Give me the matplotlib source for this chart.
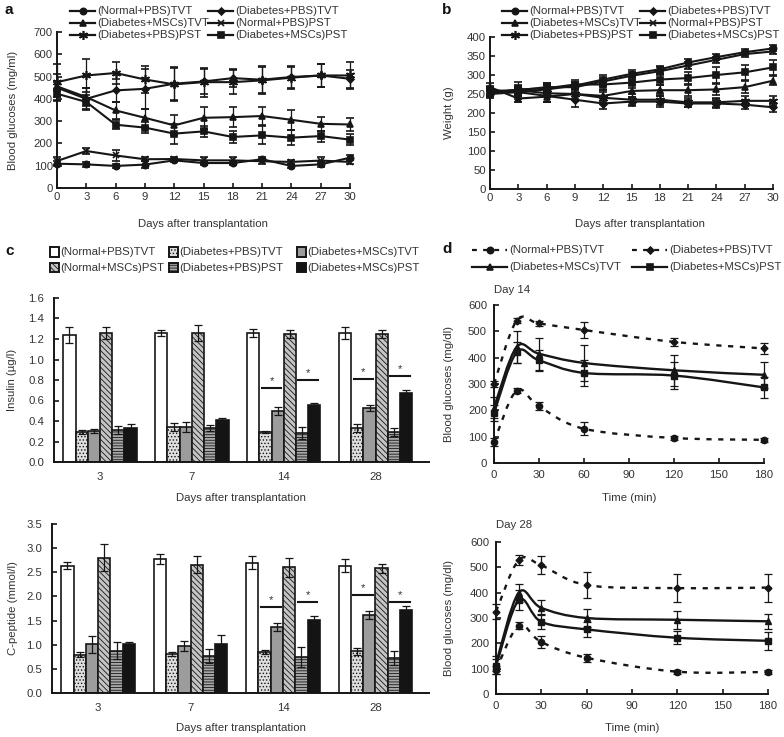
import numpy as np
import matplotlib
matplotlib.use('Agg')
import matplotlib.pyplot as plt
from matplotlib.lines import Line2D
from matplotlib.patches import Rectangle, PathPatch
from matplotlib.path import Path
from matplotlib.ticker import FormatStrFormatter

W, H = 784, 737
INK = '#161616'
TXT = '#333333'
FS = 8.2

plt.rcParams['font.family'] = ['Liberation Sans', 'DejaVu Sans']
plt.rcParams['font.size'] = FS
plt.rcParams['hatch.linewidth'] = 0.6
plt.rcParams['text.color'] = TXT

# ---------------- data: panel a (blood glucose, mg/ml) ----------------
days = [0, 3, 6, 9, 12, 15, 18, 21, 24, 27, 30]
a_norm_tvt = [109, 106, 99, 105, 124, 112, 112, 129, 99, 106, 136]
a_dpbs_tvt = [450, 400, 438, 445, 468, 478, 493, 486, 498, 505, 490]
a_dmsc_tvt = [456, 408, 348, 315, 281, 315, 318, 323, 306, 288, 285]
a_norm_pst = [121, 166, 146, 129, 130, 124, 124, 120, 117, 123, 117]
a_dpbs_pst = [475, 505, 516, 487, 465, 475, 475, 483, 495, 505, 505]
a_dmsc_pst = [423, 386, 284, 271, 244, 254, 229, 236, 226, 233, 217]
a_err_norm_tvt = [10, 12, 8, 15, 8, 10, 10, 10, 10, 10, 10]
a_err_dpbs_tvt = [60, 50, 50, 90, 75, 55, 40, 60, 50, 50, 40]
a_err_dmsc_tvt = [20, 40, 40, 40, 45, 50, 45, 40, 45, 30, 30]
a_err_norm_pst = [20, 15, 25, 10, 10, 15, 15, 12, 10, 15, 10]
a_err_dpbs_pst = [80, 75, 50, 60, 75, 65, 55, 60, 50, 50, 60]
a_err_dmsc_pst = [15, 30, 20, 25, 45, 25, 25, 40, 35, 25, 25]

# ---------------- data: panel b (weight, g) ----------------
b_norm_tvt = [250, 255, 262, 272, 288, 303, 315, 333, 347, 360, 370]
b_dpbs_tvt = [260, 255, 245, 235, 225, 230, 230, 225, 225, 222, 215]
b_dmsc_tvt = [268, 238, 243, 250, 245, 258, 260, 260, 262, 268, 285]
b_norm_pst = [258, 260, 268, 268, 283, 298, 310, 325, 340, 355, 362]
b_dpbs_pst = [255, 260, 252, 250, 240, 235, 235, 228, 228, 232, 232]
b_dmsc_pst = [252, 262, 265, 275, 275, 280, 288, 292, 300, 307, 320]
b_err_norm_tvt = [10, 10, 12, 10, 12, 10, 10, 10, 8, 8, 8]
b_err_dpbs_tvt = [12, 12, 15, 18, 15, 12, 15, 10, 12, 12, 12]
b_err_dmsc_tvt = [10, 10, 15, 12, 15, 15, 15, 15, 15, 15, 12]
b_err_norm_pst = [10, 12, 12, 10, 12, 10, 10, 10, 8, 8, 8]
b_err_dpbs_pst = [10, 22, 22, 15, 15, 15, 15, 12, 12, 12, 12]
b_err_dmsc_pst = [10, 12, 15, 12, 15, 15, 15, 15, 20, 20, 20]

# ---------------- data: panel c (bars) ----------------
c_days = ['3', '7', '14', '28']
c_labels = ['(Normal+PBS)TVT', '(Diabetes+PBS)TVT', '(Diabetes+MSCs)TVT',
            '(Normal+MSCs)PST', '(Diabetes+PBS)PST', '(Diabetes+MSCs)PST']
ins_vals = [[1.24, 1.255, 1.255, 1.26],
            [0.29, 0.34, 0.29, 0.335],
            [0.30, 0.34, 0.50, 0.53],
            [1.26, 1.26, 1.245, 1.245],
            [0.31, 0.335, 0.28, 0.29],
            [0.33, 0.41, 0.56, 0.67]]
ins_errs = [[0.08, 0.03, 0.04, 0.06],
            [0.02, 0.04, 0.01, 0.04],
            [0.02, 0.05, 0.04, 0.03],
            [0.06, 0.08, 0.04, 0.04],
            [0.04, 0.03, 0.06, 0.04],
            [0.04, 0.02, 0.02, 0.03]]
cp_vals = [[2.64, 2.77, 2.70, 2.64],
           [0.79, 0.80, 0.85, 0.86],
           [1.01, 0.98, 1.36, 1.61],
           [2.80, 2.66, 2.60, 2.58],
           [0.88, 0.77, 0.75, 0.72],
           [1.01, 1.01, 1.52, 1.72]]
cp_errs = [[0.08, 0.1, 0.14, 0.13],
           [0.05, 0.04, 0.05, 0.07],
           [0.18, 0.1, 0.08, 0.08],
           [0.28, 0.17, 0.2, 0.1],
           [0.18, 0.14, 0.21, 0.15],
           [0.05, 0.2, 0.07, 0.08]]
# significance marks: (group, first bar of pair, height)
ins_stars = [(2, 1, 0.72), (2, 4, 0.80), (3, 1, 0.81), (3, 4, 0.84)]
cp_stars = [(2, 1, 1.78), (2, 4, 1.88), (3, 1, 2.03), (3, 4, 1.88)]

# ---------------- data: panel d (glucose tolerance, mg/dl) ----------------
minutes = [0, 15, 30, 60, 120, 180]
d14_norm_tvt = [80, 275, 215, 130, 95, 88]
d14_dpbs_tvt = [300, 540, 530, 505, 460, 435]
d14_dmsc_tvt = [210, 440, 415, 380, 352, 335]
d14_dmsc_pst = [190, 420, 390, 342, 332, 287]
d14_err_norm_tvt = [15, 10, 15, 25, 8, 8]
d14_err_dpbs_tvt = [10, 10, 10, 30, 15, 20]
d14_err_dmsc_tvt = [40, 60, 60, 70, 60, 50]
d14_err_dmsc_pst = [30, 40, 40, 50, 50, 40]
d28_norm_tvt = [95, 270, 205, 143, 88, 87]
d28_dpbs_tvt = [325, 528, 508, 430, 418, 420]
d28_dmsc_tvt = [120, 400, 340, 300, 293, 287]
d28_dmsc_pst = [110, 370, 285, 255, 222, 210]
d28_err_norm_tvt = [15, 15, 25, 15, 8, 8]
d28_err_dpbs_tvt = [30, 20, 35, 50, 55, 55]
d28_err_dmsc_tvt = [30, 35, 30, 35, 35, 30]
d28_err_dmsc_pst = [30, 40, 30, 30, 25, 35]


def fx(x):
    return x / W


def fy(y):
    return 1 - y / H


def rect(left, top, right, bottom):
    return [fx(left), fy(bottom), fx(right) - fx(left), fy(top) - fy(bottom)]


def style_axes(ax, pad=3):
    for s in ['top', 'right']:
        ax.spines[s].set_visible(False)
    for s in ['left', 'bottom']:
        ax.spines[s].set_linewidth(1.4)
        ax.spines[s].set_color(INK)
    ax.tick_params(direction='in', length=3.5, width=1.2, color=INK,
                   labelsize=FS, labelcolor=TXT, pad=pad)


def unclip(container):
    for art in container.get_children():
        art.set_clip_on(False)


markers = {'norm_tvt': ('o', 4.5), 'dpbs_tvt': ('D', 3.5), 'dmsc_tvt': ('^', 5),
           'norm_pst': ('x', 5), 'dpbs_pst': ((6, 2, 0), 6.5), 'dmsc_pst': ('s', 4.5)}
names = ['(Normal+PBS)TVT', '(Diabetes+PBS)TVT', '(Diabetes+MSCs)TVT',
         '(Normal+PBS)PST', '(Diabetes+PBS)PST', '(Diabetes+MSCs)PST']
keys = ['norm_tvt', 'dpbs_tvt', 'dmsc_tvt', 'norm_pst', 'dpbs_pst', 'dmsc_pst']


def line_legend(x1, x2, rows, entries, seg=25):
    # entries in row order, 2 per row
    for i, (key, label, style) in enumerate(entries):
        r, c = divmod(i, 2)
        x0 = [x1, x2][c]
        y = rows[r]
        m, ms = markers[key]
        fig.add_artist(Line2D([fx(x0), fx(x0 + seg)], [fy(y), fy(y)], color=INK,
                              lw=1.6, ls=style, transform=fig.transFigure))
        fig.add_artist(Line2D([fx(x0 + seg / 2)], [fy(y)], marker=m, ms=ms, mew=1.2,
                              color=INK, transform=fig.transFigure))
        fig.text(fx(x0 + seg + 2), fy(y), label, va='center', ha='left', fontsize=FS)


fig = plt.figure(figsize=(W / 100, H / 100), dpi=100)

# ---------------- panel a ----------------
ax = fig.add_axes(rect(57, 32, 350, 188))
style_axes(ax)
a_series = [a_norm_tvt, a_dpbs_tvt, a_dmsc_tvt, a_norm_pst, a_dpbs_pst, a_dmsc_pst]
a_errs = [a_err_norm_tvt, a_err_dpbs_tvt, a_err_dmsc_tvt, a_err_norm_pst, a_err_dpbs_pst, a_err_dmsc_pst]
for key, ys, es in zip(keys, a_series, a_errs):
    m, ms = markers[key]
    c = ax.errorbar(days, ys, yerr=es, color=INK, lw=1.5, marker=m, ms=ms, mew=1.2,
                    capsize=3, elinewidth=0.9, capthick=0.9)
    unclip(c)
ax.set_xlim(0, 30)
ax.set_ylim(0, 700)
ax.set_xticks(days)
ax.set_yticks(range(0, 701, 100))
fig.text(fx(203), fy(224), 'Days after transplantation', ha='center', va='center')
fig.text(fx(13), fy(110), 'Blood glucoses (mg/ml)', rotation=90, ha='center', va='center')
fig.text(fx(9), fy(10), 'a', fontsize=11, fontweight='bold', ha='center', va='center', color='#111')
line_legend(70, 208, [11, 23, 35], [(keys[i], names[i], '-') for i in range(6)])

# ---------------- panel b ----------------
ax = fig.add_axes(rect(490, 37, 773, 189))
style_axes(ax)
b_series = [b_norm_tvt, b_dpbs_tvt, b_dmsc_tvt, b_norm_pst, b_dpbs_pst, b_dmsc_pst]
b_errs = [b_err_norm_tvt, b_err_dpbs_tvt, b_err_dmsc_tvt, b_err_norm_pst, b_err_dpbs_pst, b_err_dmsc_pst]
for key, ys, es in zip(keys, b_series, b_errs):
    m, ms = markers[key]
    c = ax.errorbar(days, ys, yerr=es, color=INK, lw=1.5, marker=m, ms=ms, mew=1.2,
                    capsize=3, elinewidth=0.9, capthick=0.9)
    unclip(c)
ax.set_xlim(0, 30)
ax.set_ylim(0, 400)
ax.set_xticks(days)
ax.set_yticks(range(0, 401, 50))
fig.text(fx(640), fy(224), 'Days after transplantation', ha='center', va='center')
fig.text(fx(449), fy(113), 'Weight (g)', rotation=90, ha='center', va='center')
fig.text(fx(447), fy(10), 'b', fontsize=11, fontweight='bold', ha='center', va='center', color='#111')
line_legend(502, 640, [11, 23, 35], [(keys[i], names[i], '-') for i in range(6)])

# ---------------- panel c ----------------
bar_faces = ['white', '#dedede', '#9c9c9c', '#c4c4c4', '#a8a8a8', '#141414']
bar_hatch = ['', '.....', '', '\\\\\\\\\\\\', '------', '']
bw = 0.133
groups = np.arange(len(c_days))


def bar_panel(box, vals, errs, ymax, step, stars):
    ax = fig.add_axes(box)
    style_axes(ax, pad=7)
    for k in range(6):
        ax.bar(groups + (k - 2.5) * bw, vals[k], bw, yerr=errs[k], color=bar_faces[k],
               hatch=bar_hatch[k], edgecolor=INK, lw=1.2, capsize=3,
               error_kw=dict(elinewidth=0.9, capthick=0.9, ecolor=INK))
    for g, k, y in stars:
        xa = groups[g] + (k - 2.5) * bw - 0.3 * bw
        xb = groups[g] + (k + 1 - 2.5) * bw + 0.3 * bw
        ax.plot([xa, xb], [y, y], color=INK, lw=1.5)
        ax.text((xa + xb) / 2, y + ymax * 0.012, '*', ha='center', va='bottom', fontsize=FS)
    ax.set_xlim(-0.5, 3.58)
    ax.set_ylim(0, ymax)
    ax.set_xticks(groups)
    ax.set_xticklabels(c_days)
    ax.tick_params(axis='x', length=0)
    ax.set_yticks(np.arange(0, ymax + step / 2, step))
    ax.yaxis.set_major_formatter(FormatStrFormatter('%.1f'))
    return ax


bar_panel(rect(54, 298, 429, 462), ins_vals, ins_errs, 1.6, 0.2, ins_stars)
fig.text(fx(241), fy(498), 'Days after transplantation', ha='center', va='center')
fig.text(fx(12), fy(380), 'Insulin (\u00b5g/l)', rotation=90, ha='center', va='center')
bar_panel(rect(52, 524, 429, 693), cp_vals, cp_errs, 3.5, 0.5, cp_stars)
fig.text(fx(241), fy(728), 'Days after transplantation', ha='center', va='center')
fig.text(fx(13), fy(608), 'C-peptide (mmol/l)', rotation=90, ha='center', va='center')
fig.text(fx(10), fy(251), 'c', fontsize=11, fontweight='bold', ha='center', va='center', color='#111')

# bar legend, 3 per row
c_cols = [50, 169, 297]
c_rows = [252, 268]
for i, label in enumerate(c_labels):
    r, col = divmod(i, 3)
    x0, y0 = c_cols[col], c_rows[r]
    fig.add_artist(Rectangle((fx(x0), fy(y0 + 4.5)), fx(9), 9 / H, transform=fig.transFigure,
                             facecolor=bar_faces[i], hatch=bar_hatch[i], edgecolor=INK, lw=1.4))
    fig.text(fx(x0 + 10), fy(y0), label, va='center', ha='left', fontsize=FS)

# ---------------- panel d ----------------


def smooth_path(xs, ys):
    pts = list(zip(xs, ys))
    n = len(pts)
    verts = [pts[0]]
    codes = [Path.MOVETO]
    for i in range(n - 1):
        p0 = pts[i - 1] if i > 0 else pts[i]
        p1, p2 = pts[i], pts[i + 1]
        p3 = pts[i + 2] if i + 2 < n else pts[i + 1]
        c1 = (p1[0] + (p2[0] - p0[0]) / 6, p1[1] + (p2[1] - p0[1]) / 6)
        c2 = (p2[0] - (p3[0] - p1[0]) / 6, p2[1] - (p3[1] - p1[1]) / 6)
        verts += [c1, c2, p2]
        codes += [Path.CURVE4] * 3
    return Path(verts, codes)


DASH = (0, (2.2, 2.8))
d_keys = ['norm_tvt', 'dpbs_tvt', 'dmsc_tvt', 'dmsc_pst']
d_styles = [DASH, DASH, '-', '-']


def ogtt_panel(box, series, errs, title, title_y, xlabel_y):
    ax = fig.add_axes(box)
    style_axes(ax, pad=5)
    for key, ls, ys, es in zip(d_keys, d_styles, series, errs):
        m, ms = markers[key]
        ax.add_patch(PathPatch(smooth_path(minutes, ys), fill=False, edgecolor=INK,
                               lw=1.7, linestyle=ls, clip_on=False))
        c = ax.errorbar(minutes, ys, yerr=es, fmt='none', ecolor=INK, capsize=3,
                        elinewidth=0.9, capthick=0.9)
        unclip(c)
        ax.plot(minutes, ys, ls='none', marker=m, ms=ms, color=INK, clip_on=False)
    ax.set_xlim(0, 180)
    ax.set_ylim(0, 600)
    ax.set_xticks(range(0, 181, 30))
    ax.set_yticks(range(0, 601, 100))
    x0, x1 = box[0] * W, (box[0] + box[2]) * W
    fig.text(fx(x0), fy(title_y), title, ha='left', va='center')
    fig.text(fx((x0 + x1) / 2), fy(xlabel_y), 'Time (min)', ha='center', va='center')
    mid = H * (1 - (box[1] + box[3] / 2))
    fig.text(fx(449), fy(mid), 'Blood glucoses (mg/dl)', rotation=90, ha='center', va='center')


ogtt_panel(rect(494, 305, 764, 463), [d14_norm_tvt, d14_dpbs_tvt, d14_dmsc_tvt, d14_dmsc_pst],
           [d14_err_norm_tvt, d14_err_dpbs_tvt, d14_err_dmsc_tvt, d14_err_dmsc_pst],
           'Day 14', 290, 498)
ogtt_panel(rect(496, 542, 768, 694), [d28_norm_tvt, d28_dpbs_tvt, d28_dmsc_tvt, d28_dmsc_pst],
           [d28_err_norm_tvt, d28_err_dpbs_tvt, d28_err_dmsc_tvt, d28_err_dmsc_pst],
           'Day 28', 525, 728)
fig.text(fx(447), fy(249), 'd', fontsize=11, fontweight='bold', ha='center', va='center', color='#111')
d_names = ['(Normal+PBS)TVT', '(Diabetes+PBS)TVT', '(Diabetes+MSCs)TVT', '(Diabetes+MSCs)PST']
line_legend(472, 632, [250, 267], list(zip(d_keys, d_names, d_styles)), seg=35)

fig.savefig('out.png', dpi=100)
